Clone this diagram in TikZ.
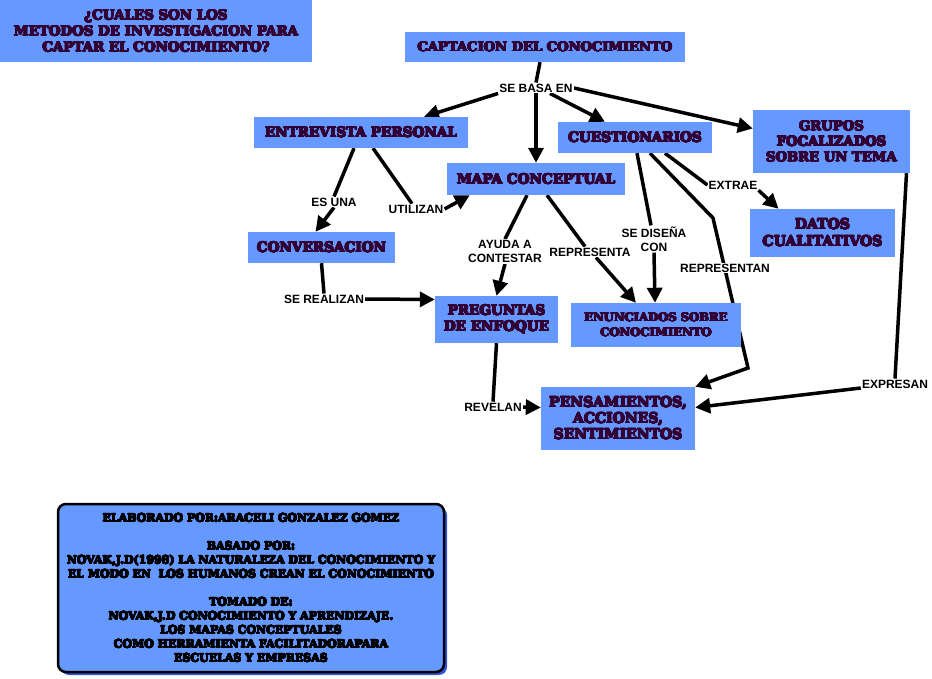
\documentclass[tikz,border=0pt]{standalone}
\usepackage{fontspec}
\usepackage[copies]{contour}
\contourlength{0.45pt}
\contournumber{16}
\newfontfamily\lblfont{Liberation Sans}
\newfontfamily\boxfontfam{DejaVu Serif}
\newcommand{\boxfont}{\boxfontfam\bfseries}
\usetikzlibrary{arrows.meta,backgrounds,calc,shadows}
\definecolor{boxblue}{HTML}{6699FF}
\definecolor{boxtext}{HTML}{330033}
\definecolor{glowblue}{HTML}{3355DD}
\newcommand{\hv}[1]{\contour{boxtext}{#1}}
\newcommand{\hk}[1]{{\contourlength{0.35pt}\contour{black}{#1}}}
\begin{document}
\begin{tikzpicture}[x=1pt,y=-1pt,
  concept/.style={rectangle, fill=boxblue, text=boxtext, align=center, inner sep=0pt,
    font=\boxfont\fontsize{13.6}{16}\selectfont},
  lbl/.style={fill=white, inner sep=1pt, align=center, text=black,
    font=\lblfont\bfseries\fontsize{12}{14}\selectfont},
  conn/.style={line width=3.5pt, draw=black},
  arr/.style={conn, -{Triangle[length=15pt,width=15pt]}}
]
\useasboundingbox (0,0) rectangle (932,679);

% concept boxes
\node[concept, font=\boxfont\fontsize{13.4}{16}\selectfont, minimum width=312, minimum height=62] (title) at (156,31)
  {\hv{¿CUALES SON LOS}\\\hv{METODOS DE INVESTIGACION PARA}\\\hv{CAPTAR EL CONOCIMIENTO?}};
\node[concept, font=\boxfont\fontsize{13.1}{16}\selectfont, minimum width=280, minimum height=30] (capt) at (545,47) {\hv{CAPTACION DEL CONOCIMIENTO}};
\node[concept, minimum width=214, minimum height=31] (entre) at (361,132.5) {\hv{ENTREVISTA PERSONAL}};
\node[concept, minimum width=154, minimum height=31] (cuest) at (635,137.5) {\hv{CUESTIONARIOS}};
\node[concept, font=\boxfont\fontsize{13.2}{15.5}\selectfont, minimum width=157, minimum height=63] (grupos) at (831.5,141.5) {\hv{GRUPOS}\\\hv{FOCALIZADOS}\\\hv{SOBRE UN TEMA}};
\node[concept, minimum width=178, minimum height=32] (mapa) at (536,179) {\hv{MAPA CONCEPTUAL}};
\node[concept, minimum width=147, minimum height=31] (conv) at (321.5,247.5) {\hv{CONVERSACION}};
\node[concept, font=\boxfont\fontsize{14}{17}\selectfont, minimum width=145, minimum height=48] (datos) at (822.5,233) {\hv{DATOS}\\\hv{CUALITATIVOS}};
\node[concept, minimum width=123, minimum height=47] (preg) at (496.5,319.5) {\hv{PREGUNTAS}\\\hv{DE ENFOQUE}};
\node[concept, font=\boxfont\fontsize{11.6}{15}\selectfont, minimum width=170, minimum height=44] (enun) at (656,325) {\hv{ENUNCIADOS SOBRE}\\\hv{CONOCIMIENTO}};
\node[concept, font=\boxfont\fontsize{14}{16}\selectfont, minimum width=154, minimum height=63] (pens) at (618,418.5) {\hv{PENSAMIENTOS,}\\\hv{ACCIONES,}\\\hv{SENTIMIENTOS}};

% linking labels
\node[lbl] (sebasa) at (536,88) {SE BASA EN};
\node[lbl] (esuna) at (334,202) {ES UNA};
\node[lbl] (utilizan) at (416,209) {UTILIZAN};
\node[lbl] (ayuda) at (505,251.5) {AYUDA A\\CONTESTAR};
\node[lbl] (sedis) at (654,239) {SE DISEÑA\\CON};
\node[lbl] (representa) at (590,252) {REPRESENTA};
\node[lbl] (extrae) at (733,185) {EXTRAE};
\node[lbl] (representan) at (725,268) {REPRESENTAN};
\node[lbl] (serealizan) at (324,299) {SE REALIZAN};
\node[lbl] (revelan) at (493,407) {REVELAN};
\node[lbl] (expresan) at (895,384) {EXPRESAN};

\coordinate (bendA) at (713,218);
\coordinate (bendB) at (748,368);

\begin{scope}[on background layer]
\fill[white] (0,0) rectangle (932,679);
\draw[conn] ([xshift=-5pt]capt.south) -- (sebasa.north);
\draw[arr] (sebasa.south west) -- ([xshift=63pt]entre.north);
\draw[arr] (sebasa.south) -- (mapa.north);
\draw[arr] ([xshift=14pt]sebasa.south) -- ([xshift=-30pt]cuest.north);
\draw[arr] (sebasa.east) -- ([yshift=13pt]grupos.west);
\draw[conn] ([xshift=-7pt]entre.south) -- (esuna.north);
\draw[arr] (esuna.south) -- ([xshift=-6pt]conv.north);
\draw[conn] ([xshift=12pt]entre.south) -- ([xshift=-4pt]utilizan.north);
\draw[arr] (utilizan.east) -- ([xshift=23pt]mapa.south west);
\draw[conn] (conv.south) -- (serealizan.north);
\draw[arr] (serealizan.east) -- ([yshift=20pt]preg.west);
\draw[conn] ([xshift=-9pt]mapa.south) -- (ayuda.north);
\draw[arr] (ayuda.south) -- (preg.north);
\draw[conn] ([xshift=11pt]mapa.south) -- ([xshift=-5pt]representa.north);
\draw[arr] ([xshift=6pt]representa.south) -- ([xshift=-20pt]enun.north);
\draw[conn] ([xshift=2pt]cuest.south) -- ([xshift=-3pt]sedis.north);
\draw[arr] (sedis.south) -- ([xshift=-1pt]enun.north);
\draw[arr] ([xshift=15pt]cuest.south) -- (bendA) -- (bendB) -- (pens.north east);
\draw[conn] ([xshift=30pt]cuest.south) -- (extrae.west);
\draw[arr] (extrae.south east) -- ([xshift=-44pt]datos.north);
\draw[conn] ([xshift=75pt]grupos.south) -- (expresan.north);
\draw[arr] ([yshift=-4pt]expresan.west) -- ([yshift=11pt]pens.east);
\draw[conn] (preg.south) -- (revelan.north);
\draw[arr] (revelan.east) -- ([yshift=11pt]pens.west);
\end{scope}

% credits box
\node[rectangle, rounded corners=8pt, draw=black, line width=2.5pt, fill=boxblue,
  minimum width=386, minimum height=168, inner sep=0pt, align=center, text=black,
  general shadow={fill=glowblue, shadow xshift=3pt, shadow yshift=-3pt},
  font=\boxfont\fontsize{11}{14}\selectfont] (credits) at (251,588)
  {\hk{ELABORADO POR:ARACELI GONZALEZ GOMEZ}\\[14pt]
   \hk{BASADO POR:}\\
   \hk{NOVAK,J.D(1998) LA NATURALEZA DEL CONOCIMIENTO Y}\\
   \hk{EL MODO EN\ \ LOS HUMANOS CREAN EL CONOCIMIENTO}\\[14pt]
   \hk{TOMADO DE:}\\
   \hk{NOVAK,J.D CONOCIMIENTO Y APRENDIZAJE.}\\
   \hk{LOS MAPAS CONCEPTUALES}\\
   \hk{COMO HERRAMIENTA FACILITADORAPARA}\\
   \hk{ESCUELAS Y EMPRESAS}};
\end{tikzpicture}
\end{document}
